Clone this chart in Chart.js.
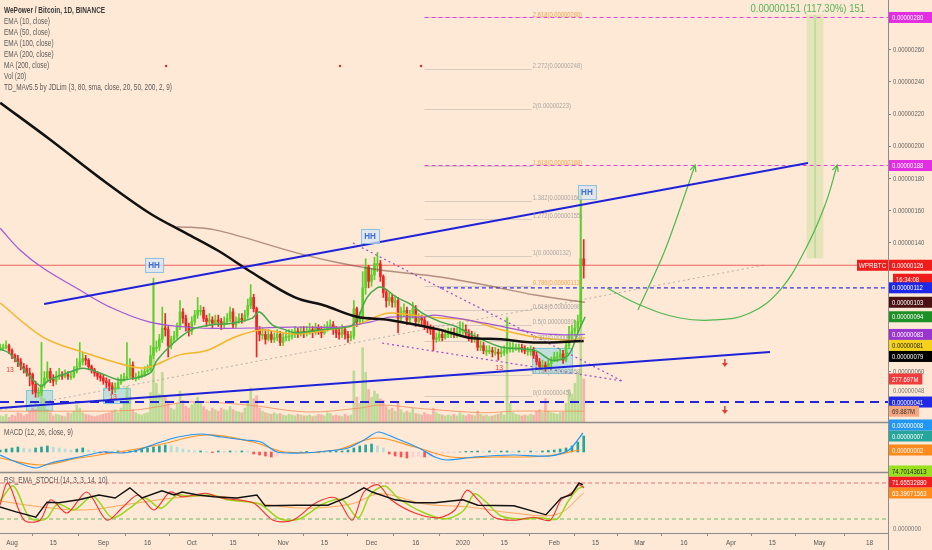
<!DOCTYPE html>
<html>
<head>
<meta charset="utf-8">
<script src="https://cdn.jsdelivr.net/npm/chart.js@4.4.1/dist/chart.umd.min.js"></script>
<style>
  html, body { margin: 0; padding: 0; background: #fde9d5; }
  #wrap { position: relative; width: 932px; height: 550px; }
  canvas { display: block; }
</style>
</head>
<body>
<div id="wrap"><canvas id="chart" width="932" height="550"></canvas></div>
<script>
// day 0 = Aug 1 2019, first candle is Jul 28 (day -4), last is Feb 11 2020 (day 194)
// prices are in satoshi (1e-8 BTC), volumes in millions
const firstDay = -4;
const firstOpen = 74;

const closes = [
  75, 75, 76, 73,
  70, 68, 66, 63, 62, 59, 58, 52, 47, 47,
  52, 56, 60, 55, 54, 57, 58, 57, 58, 57,
  57, 60, 63, 66, 68, 67, 63, 61, 59, 57,
  56, 54, 53, 51, 49, 50, 53, 55, 56, 57,
  64, 56, 56, 57, 58, 60, 61, 70, 75, 75,
  80, 87, 86, 76, 80, 82, 88, 97, 93, 88,
  85, 91, 95, 98, 98, 93, 91, 92, 90, 92,
  91, 89, 91, 93, 97, 89, 91, 93, 92, 95,
  101, 106, 99, 86, 83, 83, 80, 83, 80, 81,
  83, 78, 81, 82, 82, 83, 85, 83, 85, 84,
  85, 86, 84, 87, 86, 84, 86, 88, 89, 86,
  84, 83, 86, 83, 81, 82, 99, 91, 93, 112,
  125, 116, 120, 127, 127, 119, 109, 104, 106, 103,
  104, 93, 97, 98, 92, 95, 99, 91, 93, 92,
  88, 87, 86, 80, 81, 83, 81, 83, 84, 84,
  83, 84, 86, 86, 84, 82, 81, 81, 75, 76,
  73, 73, 73, 72, 72, 71, 72, 73, 75, 75,
  75, 75, 75, 74, 73, 73, 73, 70, 66, 63,
  64, 63, 65, 67, 69, 69, 71, 67, 76, 83,
  85, 87, 91, 130, 126
];
const highs = [
  77, 77, 79, 77,
  74, 71, 70, 68, 65, 64, 62, 59, 54, 50,
  78, 60, 66, 62, 58, 60, 62, 60, 61, 60,
  60, 63, 68, 78, 72, 70, 68, 64, 62, 60,
  59, 58, 56, 55, 53, 53, 56, 58, 59, 78,
  68, 66, 59, 60, 61, 63, 64, 76, 118, 79,
  83, 100, 96, 88, 82, 85, 90, 104, 99, 95,
  90, 94, 98, 106, 101, 100, 95, 96, 94, 95,
  95, 93, 94, 96, 100, 99, 94, 96, 96, 98,
  105, 114, 108, 100, 88, 87, 86, 86, 85, 84,
  86, 85, 84, 85, 86, 86, 88, 87, 88, 88,
  88, 90, 88, 90, 89, 88, 89, 91, 92, 91,
  88, 87, 89, 88, 85, 85, 104, 100, 97, 122,
  130, 126, 124, 131, 134, 129, 120, 111, 109, 108,
  107, 106, 100, 102, 100, 98, 103, 101, 96, 95,
  94, 91, 89, 88, 84, 86, 85, 86, 87, 87,
  87, 87, 91, 90, 89, 86, 85, 84, 83, 79,
  78, 76, 76, 75, 75, 74, 75, 76, 93, 78,
  78, 77, 77, 77, 76, 75, 76, 75, 72, 68,
  67, 66, 67, 69, 72, 72, 74, 73, 79, 88,
  89, 92, 95, 173, 142
];
const lows = [
  73, 73, 74, 71,
  68, 66, 63, 61, 59, 57, 51, 46, 44, 44,
  45, 50, 54, 53, 51, 52, 55, 55, 56, 55,
  55, 56, 59, 62, 64, 64, 61, 59, 57, 55,
  54, 52, 50, 48, 46, 47, 49, 52, 54, 55,
  56, 55, 54, 55, 56, 57, 59, 60, 68, 72,
  73, 78, 82, 69, 74, 78, 80, 86, 90, 85,
  82, 83, 89, 93, 95, 91, 88, 89, 87, 89,
  88, 86, 87, 89, 91, 87, 87, 90, 90, 91,
  93, 99, 97, 69, 79, 80, 77, 79, 78, 78,
  79, 76, 76, 79, 79, 80, 81, 81, 82, 81,
  82, 83, 81, 83, 83, 81, 83, 85, 86, 83,
  81, 80, 81, 80, 78, 79, 80, 88, 89, 90,
  108, 112, 113, 117, 122, 116, 106, 100, 101, 100,
  100, 84, 91, 94, 89, 90, 93, 88, 89, 89,
  86, 84, 83, 73, 78, 79, 79, 80, 81, 81,
  81, 81, 82, 83, 81, 79, 78, 78, 73, 73,
  71, 70, 71, 69, 70, 67, 69, 70, 71, 72,
  72, 73, 72, 72, 71, 70, 70, 68, 64, 61,
  61, 60, 62, 63, 66, 66, 67, 65, 66, 74,
  80, 82, 84, 88, 118
];
const volumes = [
  40, 35, 50, 30,
  45, 40, 60, 55, 40, 50, 70, 90, 80, 110,
  220, 150, 80, 60, 40, 50, 45, 40, 35, 60,
  55, 70, 110, 90, 60, 50, 45, 40, 35, 40,
  45, 50, 55, 60, 70, 80, 60, 90, 120, 230,
  160, 80, 60, 50, 45, 55, 60, 190, 900, 250,
  180, 320, 170, 130, 90, 80, 120, 200, 140, 100,
  90, 110, 130, 160, 120, 100, 80, 70, 90, 80,
  70, 90, 80, 75, 100, 80, 70, 65, 60, 90,
  140, 220, 150, 170, 90, 70, 60, 55, 50, 60,
  50, 55, 45, 40, 50, 45, 40, 50, 45, 40,
  40, 45, 35, 40, 50, 45, 40, 60, 55, 40,
  45, 40, 35, 50, 40, 45, 330, 160, 120, 480,
  320, 210, 160, 200, 180, 150, 140, 100, 80, 90,
  70, 130, 80, 60, 70, 60, 90, 55, 50, 45,
  60, 50, 45, 90, 60, 50, 45, 40, 45, 40,
  50, 40, 60, 45, 40, 50, 45, 40, 70, 50,
  40, 45, 35, 40, 45, 50, 60, 45, 680, 120,
  60, 50, 45, 40, 45, 40, 50, 45, 70, 80,
  60, 150, 70, 60, 55, 50, 60, 65, 120, 210,
  180, 250, 320, 1500, 277.697
];

// moving averages (day, value)
const ema10Days = [-4, -0.7, 9.5, 12.9, 18.7, 24.1, 29.9, 35.6, 39, 46.8, 49.2, 55, 61, 68, 74.7, 81.4, 84, 88.3, 92.6, 96, 105.5, 114.7, 117, 120.5, 123.9, 126, 130.6, 135, 139.5, 145.2, 150.5, 158.1, 166.3, 177.5, 183.2, 188.7, 192, 194.5];
const ema10Vals = [74, 71, 51, 55, 59, 62, 59, 55, 55, 59, 67, 78, 86, 89, 90, 93, 97, 89, 86, 84, 86, 88, 92, 106, 112, 112, 106, 102, 96, 91, 88, 81, 75, 73, 67, 70, 84, 94];
const ema50Days = [-4, 10.5, 24, 41, 46.8, 56.3, 66, 75.7, 84.8, 96, 111.3, 117, 124.9, 128.3, 145.2, 154.7, 166.3, 177.5, 188.7, 194.4];
const ema50Vals = [102.5, 81.4, 72, 62.8, 62.8, 70, 73, 81.4, 85.8, 83.3, 87, 88.9, 95, 96.3, 93.2, 92, 85.8, 81.4, 79.6, 81];
const ema100Days = [-4, 2.7, 10.5, 23, 33.3, 46.8, 63.8, 80.8, 94.3, 111.3, 121.5, 128.3, 139.5, 143.5, 160.5, 177.5, 188.7, 194.4];
const ema100Vals = [149, 135.5, 124.3, 110.6, 100, 90.7, 87, 87, 87.6, 87.6, 90.7, 93.8, 93.8, 95, 90, 84, 82.7, 83];
const ema200Days = [56, 68.9, 96, 109.6, 124.9, 145.2, 160.5, 177.5, 194.4];
const ema200Vals = [150, 148, 134, 128, 123, 118.7, 113.7, 107.5, 103];
const ma200Days = [-4, 13, 30, 47, 59, 70, 81, 96, 106, 117, 128, 145, 155, 166, 177, 194];
const ma200Vals = [227, 204, 180, 158, 146, 135, 122, 106, 101, 94, 92, 86, 81, 80, 78, 79];
const volMaDays = [-4, 20, 40, 50, 60, 80, 100, 118, 125, 140, 160, 170, 185, 194];
const volMaVals = [70, 70, 75, 100, 130, 110, 65, 90, 110, 85, 60, 70, 70, 69.887];

// MACD pane
const macdDays = [-4.07, 1.36, 8.1, 13.2, 22.7, 30.9, 37.7, 42.8, 49.5, 56.3, 64.5, 70.9, 79, 84.5, 89.9, 97.7, 107.2, 114, 119.4, 124.2, 130, 138.1, 143.5, 147.6, 156.8, 170.3, 182.6, 189, 193.7];
const macdVals = [-1.5, -5, -8, -5.5, -2.5, 0, -0.5, 1, 4.5, 7.5, 9, 7.5, 6, 5, 0, -0.5, 0.5, 2, 6, 10, 7, 2, -2.5, -4, -2.5, -1.5, -2, 1, 9.5];
const signalDays = [-4.07, 9.5, 22.7, 36.3, 49.5, 65.8, 81.8, 92.6, 109.9, 123.5, 136.7, 148.9, 163.5, 181.2, 192.4];
const signalVals = [-3, -6.5, -3, 0, 3.5, 8.5, 5, 0, 1, 7, 2.5, -2.5, -2.5, -2, 1];
// histogram, one bar every second day from day -4
const macdHist = [
  1, 1.5, 2, 2.5, 2, 1.5, 2, 2.5, 3, 2.5, 2, 1.5, 1, 1.5, 2, 1,
  0.5, -0.5, -0.5, 0, 0.5, -0.3, 0.5,
  1, 1.5, 2, 2.5, 3, 3.5, 3, 2.5, 1.5,
  1, 0.5, 0.5, 0.3, -0.3, 0.5, 0.3, 0.5, 0.3, 0.5, 0.3,
  -1, -1.5, -2, -2.5, -2, -1,
  -0.5, -0.3, 0, 0.3, 0, -0.3, 0, 0.3, 0.5, 0.5, 1,
  2, 3, 3.5, 4, 3, 2,
  -1, -2, -2.5, -3, -2.5, -2, -2.5, -2, -1.5, -1,
  -0.5, -0.3, 0, 0.3, 0.3, 0.5, 0.3, 0.5, 0.3, 0.5, 0.5, 0.3, 0.5, 0.3, 0.5, 0.3, 0.5, 0.8,
  1, 1.5, 2, 3, 5, 8
];

// RSI / stoch pane
const rsiDays = [-4.1, 1.4, 8.1, 11.9, 15.9, 22.7, 29.5, 35, 40, 44.1, 50.9, 55, 57.7, 63.1, 68.5, 76.3, 83.1, 85.9, 96.7, 107.2, 114, 119.4, 122.2, 130, 136.7, 143.5, 153, 158.1, 170.3, 181.2, 186.3, 189.7, 192.4, 193.7];
const rsiVals = [40, 32, 23, 48, 47, 52, 60, 55, 72, 55, 67, 60, 65, 60, 57, 55, 60, 42, 43, 43, 57, 72, 65, 52, 47, 47, 52, 43, 42, 27, 55, 60, 80, 77];
const stochKDays = [-4.1, -1.4, 4.1, 9.5, 13.2, 18.7, 25.4, 32.2, 37.7, 42.8, 48.2, 53.6, 57.7, 65.8, 70.9, 81.8, 88.6, 95.3, 103.2, 109.9, 115.4, 119.4, 124.2, 128.6, 136.7, 144.9, 150.3, 154.4, 158.1, 163.5, 170.3, 177.1, 182.6, 186.3, 190.4, 192.4, 194.1];
const stochKVals = [43, 80, 18, 18, 52, 30, 65, 18, 40, 60, 35, 65, 57, 63, 55, 47, 18, 18, 47, 55, 18, 65, 77, 52, 30, 22, 35, 68, 52, 23, 18, 23, 18, 52, 65, 77, 71.655];
const stochDDays = [-4.1, 0.5, 6, 11.5, 15.5, 21, 27.5, 34, 40, 45, 50.5, 56, 60, 68, 73, 84, 91, 97.5, 105.5, 112, 117.5, 121.5, 126.5, 131, 139, 147, 153, 157, 160.5, 166, 172.5, 179.5, 185, 188.5, 192, 194.1];
const stochDVals = [50, 75, 22, 20, 45, 35, 58, 22, 38, 55, 38, 60, 58, 60, 52, 45, 20, 20, 45, 52, 22, 60, 75, 55, 32, 20, 33, 62, 50, 25, 20, 22, 20, 48, 70, 74.701];
const emaStochDays = [-4, 10, 25, 40, 55, 70, 85, 100, 115, 125, 140, 155, 170, 185, 194];
const emaStochVals = [50, 40, 35, 45, 55, 58, 45, 38, 45, 62, 45, 40, 30, 28, 63.391];

// drawings (day, price)
const upperChannel = [[10.9, 101.9], [270.1, 189.6]];
const lowerChannel = [[-4.07, 37.3], [257.2, 72.1]];
const supportLevel = 41;
const resistLevel = 112;
const targetLevels = [280, 188];
const wedgeUpper = [[115.7, 139.8], [207, 54.1]];
const wedgeLower = [[125.6, 77.7], [207, 54.1]];
const risingDotted = [[-4.07, 36], [255.5, 126.2]];
const arrowUp = [[212.4, 98.2], [221.6, 135.5], [231.8, 188.3]];
const arrowCurve = [[201.9, 111.9], [213.1, 101.3], [226.7, 93.2], [238.5, 92], [250.4, 96.3], [260.6, 110.6], [269.1, 135.5], [275.9, 163.5], [280, 188.3]];
const rangeBox = { from: 269.8, to: 275.2, low: 130.5, high: 281.5 };
const hhMarks = [[48.2, 126.2], [121.5, 144.2], [195.1, 171.5]];
const lowBoxes = [[4.75, 13.6, 36, 48.5], [30.9, 40, 40.4, 49.7], [176.5, 190, 59, 74.6]];
const tdMarks = [[-0.7, 60.9], [34.3, 44.1], [165.3, 62.2]];
const sellDots = [[52.3, 249.8], [111.3, 249.8], [138.8, 249.8]];
const downArrows = [[241.9, 65.3], [241.9, 36]];

const fibRatios = ['2.618', '2.272', '2', '1.618', '1.382', '1.272', '1', '0.786', '0.618', '0.5', '0.382', '0.148', '0'];
const fibPrices = [280, 248, 223, 188, 166, 155, 132, 113, 98, 89, 79, 58, 45];
const fibStart = 140;
const fibEnd = 176.4;

const tickDays = [0, 14, 31, 46, 61, 75, 92, 106, 122, 137, 153, 167, 184, 198, 213, 228, 244, 258, 274, 291];
const tickLabels = ['Aug', '15', 'Sep', '16', 'Oct', '15', 'Nov', '15', 'Dec', '16', '2020', '15', 'Feb', '15', 'Mar', '16', 'Apr', '15', 'May', '18'];
const priceTicks = [60, 140, 160, 180, 200, 220, 240, 260];

const legendLines = ['WePower / Bitcoin, 1D, BINANCE', 'EMA (10, close)', 'EMA (50, close)', 'EMA (100, close)', 'EMA (200, close)', 'MA (200, close)', 'Vol (20)', 'TD_MAv5.5 by JDLim (3, 80, sma, close, 20, 50, 200, 2, 9)'];

const FONT = '"Liberation Sans", Arial, sans-serif';
const UP = '#5ccf2b';
const DOWN = '#ec2424';

const days = closes.map((_, i) => firstDay + i);
const opens = closes.map((c, i) => (i === 0 ? firstOpen : closes[i - 1]));
const candleColors = closes.map((c, i) => (c >= opens[i] ? UP : DOWN));
const pts = (xs, ys) => xs.map((x, i) => ({ x: x, y: ys[i] }));
const pairs = arr => arr.map(p => ({ x: p[0], y: p[1] }));
const last = a => a[a.length - 1];

const X_MIN = -4.07;
const X_MAX = 297.25;

const histColors = macdHist.map((v, i) => {
  const prev = i > 0 ? macdHist[i - 1] : v;
  if (v >= 0) return v >= prev ? '#26a69a' : '#b2dfdb';
  return v <= prev ? '#ff5252' : '#ffcdd2';
});

function lineDs(data, color, width, axis, extra) {
  return Object.assign({
    type: 'line', data: data, borderColor: color, borderWidth: width,
    pointRadius: 0, fill: false, yAxisID: axis || 'y', tension: 0.35, order: 10
  }, extra || {});
}

// narrow text: the screenshot uses a condensed face, squeeze a normal one
function ctext(ctx, text, x, y, font, color, align, k) {
  k = k || 0.74;
  ctx.save();
  ctx.font = font;
  ctx.fillStyle = color;
  ctx.textBaseline = 'middle';
  ctx.textAlign = 'left';
  const w = ctx.measureText(text).width * k;
  const x0 = align === 'center' ? x - w / 2 : align === 'right' ? x - w : x;
  ctx.translate(x0, y);
  ctx.scale(k, 1);
  ctx.fillText(text, 0, 0);
  ctx.restore();
  return w;
}

const overlay = {
  id: 'overlay',
  beforeDraw(chart) {
    const ctx = chart.ctx;
    ctx.save();
    ctx.fillStyle = '#fde9d5';
    ctx.fillRect(0, 0, chart.width, chart.height);
    ctx.restore();
  },
  beforeDatasetsDraw(chart) {
    const ctx = chart.ctx, xs = chart.scales.x, ys = chart.scales.y;
    ctx.save();
    lowBoxes.forEach(b => {
      const x0 = xs.getPixelForValue(b[0]), x1 = xs.getPixelForValue(b[1]);
      const y0 = ys.getPixelForValue(b[3]), y1 = ys.getPixelForValue(b[2]);
      ctx.fillStyle = 'rgba(120, 210, 225, 0.45)';
      ctx.fillRect(x0, y0, x1 - x0, y1 - y0);
      ctx.strokeStyle = 'rgba(90, 190, 215, 0.7)';
      ctx.lineWidth = 1;
      ctx.strokeRect(x0 + 0.5, y0 + 0.5, x1 - x0, y1 - y0);
    });
    ctx.strokeStyle = 'rgba(160, 160, 160, 0.4)';
    ctx.lineWidth = 1;
    fibPrices.forEach(p => {
      const y = Math.round(ys.getPixelForValue(p)) + 0.5;
      ctx.beginPath();
      ctx.moveTo(xs.getPixelForValue(fibStart), y);
      ctx.lineTo(xs.getPixelForValue(fibEnd), y);
      ctx.stroke();
    });
    ctx.restore();
  },
  afterDatasetsDraw(chart) {
    const ctx = chart.ctx, xs = chart.scales.x, ys = chart.scales.y;
    ctx.save();
    // fib labels
    fibRatios.forEach((r, i) => {
      const orange = r === '2.618' || r === '1.618' || r === '0.786';
      ctext(ctx, r + '(0.' + String(fibPrices[i]).padStart(8, '0') + ')',
        xs.getPixelForValue(fibEnd) + 1, ys.getPixelForValue(fibPrices[i]) - 3,
        '7.5px ' + FONT, orange ? 'rgba(240, 150, 60, 0.85)' : 'rgba(150, 150, 150, 0.8)', 'left', 0.78);
    });
    // arrow heads
    [arrowUp, arrowCurve].forEach(a => {
      const p1 = a[a.length - 2], p2 = a[a.length - 1];
      const x1 = xs.getPixelForValue(p1[0]), y1 = ys.getPixelForValue(p1[1]);
      const x2 = xs.getPixelForValue(p2[0]), y2 = ys.getPixelForValue(p2[1]);
      const ang = Math.atan2(y2 - y1, x2 - x1);
      ctx.strokeStyle = '#4fb84f';
      ctx.lineWidth = 1.2;
      ctx.beginPath();
      ctx.moveTo(x2 - 7 * Math.cos(ang - 0.45), y2 - 7 * Math.sin(ang - 0.45));
      ctx.lineTo(x2, y2);
      ctx.lineTo(x2 - 7 * Math.cos(ang + 0.45), y2 - 7 * Math.sin(ang + 0.45));
      ctx.stroke();
    });
    // HH marks
    hhMarks.forEach(h => {
      const x = xs.getPixelForValue(h[0]), y = ys.getPixelForValue(h[1]);
      ctx.fillStyle = 'rgba(215, 230, 240, 0.75)';
      ctx.fillRect(x - 9, y - 7, 18, 14);
      ctx.strokeStyle = '#8cc0e0';
      ctx.lineWidth = 1;
      ctx.strokeRect(x - 9 + 0.5, y - 7 + 0.5, 18, 14);
      ctext(ctx, 'HH', x, y + 0.5, 'bold 9px ' + FONT, '#3b6fd6', 'center', 0.9);
    });
    // TD 13 counts
    tdMarks.forEach(t => ctext(ctx, '13', xs.getPixelForValue(t[0]), ys.getPixelForValue(t[1]), '8px ' + FONT, '#e53935', 'center', 0.85));
    ctx.fillStyle = '#d32f2f';
    sellDots.forEach(d => {
      ctx.beginPath();
      ctx.arc(xs.getPixelForValue(d[0]), ys.getPixelForValue(d[1]), 1.2, 0, Math.PI * 2);
      ctx.fill();
    });
    ctx.strokeStyle = '#e53935';
    ctx.fillStyle = '#e53935';
    ctx.lineWidth = 1.5;
    downArrows.forEach(d => {
      const x = xs.getPixelForValue(d[0]), y = ys.getPixelForValue(d[1]);
      ctx.beginPath(); ctx.moveTo(x, y - 4); ctx.lineTo(x, y + 1); ctx.stroke();
      ctx.beginPath(); ctx.moveTo(x - 3, y); ctx.lineTo(x + 3, y); ctx.lineTo(x, y + 4); ctx.closePath(); ctx.fill();
    });
    ctext(ctx, '0.00000151 (117.30%) 151', xs.getPixelForValue(rangeBox.to) + 42, ys.getPixelForValue(rangeBox.high) - 6,
      '10px ' + FONT, '#55b455', 'right', 0.95);
    ctx.restore();
  },
  afterDraw(chart) {
    const ctx = chart.ctx;
    const xs = chart.scales.x, ys = chart.scales.y, yv = chart.scales.yVol, ym = chart.scales.yMacd, yr = chart.scales.yRsi;
    const right = chart.chartArea.right;
    const bottom = chart.chartArea.bottom;
    ctx.save();
    ctx.strokeStyle = '#8c8c8c';
    ctx.lineWidth = 1.5;
    [422.5, 472.5].forEach(y => {
      ctx.beginPath(); ctx.moveTo(0, y); ctx.lineTo(chart.width, y); ctx.stroke();
    });
    ctx.lineWidth = 1;
    ctx.beginPath(); ctx.moveTo(right + 0.5, 0); ctx.lineTo(right + 0.5, chart.height); ctx.stroke();

    // time labels
    tickDays.forEach((d, i) => ctext(ctx, tickLabels[i], xs.getPixelForValue(d), bottom + 9.5, '8px ' + FONT, '#555', 'center', 0.8));
    // price tick labels
    priceTicks.forEach(v => ctext(ctx, (v / 1e8).toFixed(8), right + 5, ys.getPixelForValue(v), '8px ' + FONT, '#666'));
    ctext(ctx, '0.00000048', right + 5, ys.getPixelForValue(48), '8px ' + FONT, '#777');
    ctext(ctx, '0.0000000', right + 5, yr.getPixelForValue(4), '8px ' + FONT, '#777');

    // legend
    legendLines.forEach((t, i) => ctext(ctx, t, 4, 11 + i * 11, (i === 0 ? 'bold ' : '') + '8.5px ' + FONT, i === 0 ? '#3a3a3a' : '#5a5a5a', 'left', 0.76));
    ctext(ctx, 'MACD (12, 26, close, 9)', 4, 433, '8.5px ' + FONT, '#5a5a5a', 'left', 0.76);
    ctext(ctx, 'RSI_EMA_STOCH (14, 3, 3, 14, 10)', 4, 481, '8.5px ' + FONT, '#5a5a5a', 'left', 0.76);

    function tag(y, text, bg, fg, full) {
      ctx.font = '8px ' + FONT;
      const w = full ? chart.width - right - 1 : ctx.measureText(text).width * 0.74 + 7;
      ctx.fillStyle = bg;
      ctx.fillRect(right + 1, y - 5.5, w, 11);
      ctext(ctx, text, right + 4, y + 0.5, '8px ' + FONT, fg || '#fff');
    }
    function stack(list, dir) {
      list.sort((a, b) => dir > 0 ? a.y - b.y : b.y - a.y);
      for (let i = 1; i < list.length; i++) {
        if (dir > 0) list[i].y = Math.max(list[i].y, list[i - 1].y + 11);
        else list[i].y = Math.min(list[i].y, list[i - 1].y - 11);
      }
      list.forEach(t => tag(t.y, t.text, t.bg, t.fg, t.full));
    }
    const fmt = v => '0.' + String(Math.round(v)).padStart(8, '0');

    tag(ys.getPixelForValue(targetLevels[0]), fmt(targetLevels[0]), '#e22ee2', '#fff', true);
    tag(ys.getPixelForValue(targetLevels[1]), fmt(targetLevels[1]), '#e22ee2', '#fff', true);
    const yLast = ys.getPixelForValue(last(closes));
    tag(yLast, fmt(last(closes)), '#f01c1c', '#fff', true);
    ctx.fillStyle = '#f01c1c';
    ctx.fillRect(right - 31, yLast - 5.5, 31, 11);
    ctext(ctx, 'WPRBTC', right - 15.5, yLast + 0.5, '8px ' + FONT, '#fff', 'center', 0.8);
    ctx.fillStyle = '#f01c1c';
    ctx.fillRect(right + 5, yLast + 8.5, chart.width - right - 5, 11);
    ctext(ctx, '16:34:08', right + 8, yLast + 14.5, '8px ' + FONT, '#fff');

    stack([
      { y: ys.getPixelForValue(resistLevel), text: fmt(resistLevel), bg: '#1f28e6', full: true },
      { y: ys.getPixelForValue(last(ema200Vals)), text: fmt(last(ema200Vals)), bg: '#4a1212', full: true },
      { y: ys.getPixelForValue(last(ema10Vals)), text: fmt(last(ema10Vals)), bg: '#1e8f25', full: true },
      { y: ys.getPixelForValue(last(ema100Vals)), text: fmt(last(ema100Vals)), bg: '#9a36cf', full: true },
      { y: ys.getPixelForValue(last(ema50Vals)), text: fmt(last(ema50Vals)), bg: '#f5d21c', fg: '#222', full: true },
      { y: ys.getPixelForValue(last(ma200Vals)), text: fmt(last(ma200Vals)), bg: '#000', full: true }
    ], 1);
    tag(yv.getPixelForValue(last(volumes)), last(volumes).toFixed(3) + 'M', '#f03c3c', '#fff', false);
    tag(ys.getPixelForValue(supportLevel), fmt(supportLevel), '#1f28e6', '#fff', true);
    tag(yv.getPixelForValue(last(volMaVals)), last(volMaVals).toFixed(3) + 'M', '#f6a77f', '#333', false);

    stack([
      { y: ym.getPixelForValue(1), text: '0.00000002', bg: '#ff8a1c', full: true },
      { y: ym.getPixelForValue(last(macdHist)), text: '0.00000007', bg: '#26a69a', full: true },
      { y: ym.getPixelForValue(last(macdVals)), text: '0.00000008', bg: '#2196f3', full: true }
    ], -1);
    stack([
      { y: yr.getPixelForValue(last(emaStochVals)), text: '63.39071563', bg: '#ff8c1a', full: true },
      { y: yr.getPixelForValue(last(stochKVals)), text: '71.65532880', bg: '#f01e1e', full: true },
      { y: yr.getPixelForValue(last(stochDVals)), text: '74.70143613', bg: '#9be01e', fg: '#222', full: true }
    ], -1);
    ctx.restore();
  }
};

const boxMid = (rangeBox.from + rangeBox.to) / 2;
const datasets = [
  {
    type: 'bar', yAxisID: 'yVol', order: 100, grouped: false, barThickness: 2,
    data: pts(days, volumes),
    backgroundColor: candleColors.map(c => (c === UP ? 'rgba(125, 205, 85, 0.5)' : 'rgba(240, 110, 110, 0.45)'))
  },
  lineDs(pts(volMaDays, volMaVals), 'rgba(240, 140, 90, 0.8)', 1, 'yVol', { order: 99 }),
  {
    type: 'bar', yAxisID: 'y', order: 98, grouped: false, barThickness: 16,
    data: [{ x: boxMid, y: [rangeBox.low, rangeBox.high] }],
    backgroundColor: 'rgba(195, 225, 150, 0.45)'
  },
  lineDs([{ x: boxMid, y: rangeBox.low }, { x: boxMid, y: rangeBox.high }], 'rgba(150, 200, 120, 0.7)', 1, 'y', { order: 97, tension: 0 }),
  lineDs([{ x: X_MIN, y: last(closes) }, { x: X_MAX, y: last(closes) }], 'rgba(240, 70, 70, 0.85)', 1, 'y', { order: 40, tension: 0 }),
  lineDs(pairs(risingDotted), 'rgba(150, 150, 150, 0.7)', 1, 'y', { order: 40, tension: 0, borderDash: [2, 3] }),
  lineDs(pairs(wedgeUpper), '#9c4dcc', 1.2, 'y', { order: 40, tension: 0, borderDash: [2, 3] }),
  lineDs(pairs(wedgeLower), '#9c4dcc', 1.2, 'y', { order: 40, tension: 0, borderDash: [2, 3] }),
  lineDs([{ x: 140, y: targetLevels[0] }, { x: X_MAX, y: targetLevels[0] }], '#e040e0', 1, 'y', { order: 40, tension: 0, borderDash: [4, 3] }),
  lineDs([{ x: 140, y: targetLevels[1] }, { x: X_MAX, y: targetLevels[1] }], '#e040e0', 1, 'y', { order: 40, tension: 0, borderDash: [4, 3] }),
  lineDs([{ x: 145.2, y: resistLevel }, { x: X_MAX, y: resistLevel }], '#3434e6', 1.2, 'y', { order: 40, tension: 0, borderDash: [4, 3] }),
  lineDs([{ x: X_MIN, y: supportLevel }, { x: X_MAX, y: supportLevel }], '#2323e0', 2, 'y', { order: 40, tension: 0, borderDash: [9, 6] }),
  lineDs(pts(ema200Days, ema200Vals), 'rgba(120, 70, 60, 0.55)', 1.5),
  lineDs(pts(ema100Days, ema100Vals), '#a257d6', 1.2),
  lineDs(pts(ema50Days, ema50Vals), '#f3b62a', 1.5),
  {
    type: 'bar', yAxisID: 'y', order: 20, grouped: false, barThickness: 1,
    data: days.map((d, i) => ({ x: d, y: [lows[i], highs[i]] })),
    backgroundColor: candleColors
  },
  {
    type: 'bar', yAxisID: 'y', order: 19, grouped: false, barThickness: 2, minBarLength: 1,
    data: days.map((d, i) => ({ x: d, y: [opens[i], closes[i]] })),
    backgroundColor: candleColors
  },
  lineDs(pts(ema10Days, ema10Vals), '#45a84a', 1.5, 'y', { order: 8 }),
  lineDs(pts(ma200Days, ma200Vals), '#111', 2.5, 'y', { order: 6 }),
  lineDs(pairs(upperChannel), '#1e22d8', 2, 'y', { order: 4, tension: 0 }),
  lineDs(pairs(lowerChannel), '#1e22d8', 2, 'y', { order: 4, tension: 0 }),
  lineDs(pairs(arrowUp), '#4fb84f', 1.2, 'y', { order: 4, tension: 0.3 }),
  lineDs(pairs(arrowCurve), '#4fb84f', 1.2, 'y', { order: 4, tension: 0.4 }),
  {
    type: 'bar', yAxisID: 'yMacd', order: 30, grouped: false, barThickness: 2,
    data: macdHist.map((v, i) => ({ x: firstDay + 2 * i, y: v })),
    backgroundColor: histColors
  },
  lineDs(pts(signalDays, signalVals), '#ff9320', 1.2, 'yMacd', { order: 12 }),
  lineDs(pts(macdDays, macdVals), '#2196f3', 1.2, 'yMacd', { order: 11, tension: 0.25 }),
  lineDs([{ x: X_MIN, y: 80 }, { x: X_MAX, y: 80 }], '#e57373', 1, 'yRsi', { order: 40, tension: 0, borderDash: [4, 3] }),
  lineDs([{ x: X_MIN, y: 20 }, { x: X_MAX, y: 20 }], '#66bb6a', 1, 'yRsi', { order: 40, tension: 0, borderDash: [4, 3] }),
  lineDs(pts(emaStochDays, emaStochVals), 'rgba(255, 150, 60, 0.8)', 1, 'yRsi', { order: 14 }),
  lineDs(pts(stochDDays, stochDVals), '#9ad61e', 1.5, 'yRsi', { order: 13, tension: 0.3 }),
  lineDs(pts(stochKDays, stochKVals), '#f03030', 1.1, 'yRsi', { order: 12, tension: 0.3 }),
  lineDs(pts(rsiDays, rsiVals), '#111', 1.4, 'yRsi', { order: 11, tension: 0 })
];

new Chart(document.getElementById('chart'), {
  type: 'line',
  data: { datasets: datasets },
  options: {
    responsive: false,
    animation: false,
    events: [],
    layout: { padding: 0 },
    plugins: { legend: { display: false }, tooltip: { enabled: false } },
    scales: {
      x: {
        type: 'linear', min: X_MIN, max: X_MAX, offset: false,
        afterBuildTicks: s => { s.ticks = tickDays.map(v => ({ value: v })); },
        afterFit: s => { s.height = 17; },
        ticks: { display: false },
        grid: { drawOnChartArea: false, drawTicks: true, tickLength: 3, color: '#888' },
        border: { display: true, color: '#8c8c8c' }
      },
      y: {
        position: 'right', min: -40.4, max: 290.86,
        afterBuildTicks: s => { s.ticks = priceTicks.map(v => ({ value: v })); },
        afterFit: s => { s.width = 44; },
        ticks: { display: false },
        grid: { drawOnChartArea: false, drawTicks: true, tickLength: 3, color: '#888' },
        border: { display: false }
      },
      yVol: { display: false, min: -716, max: 2723 },
      yMacd: { display: false, min: -40.5, max: 226 },
      yRsi: { display: false, min: -3.33, max: 885 }
    }
  },
  plugins: [overlay]
});
</script>
</body>
</html>
